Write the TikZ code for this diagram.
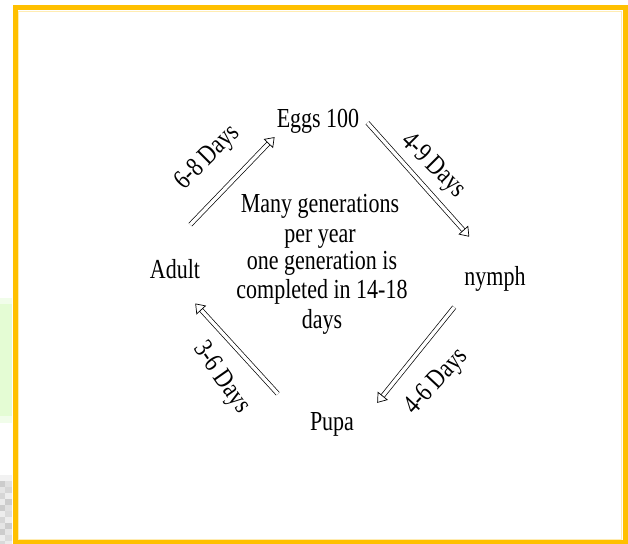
\documentclass[tikz,border=0pt]{standalone}
\usepackage{fontspec}
\setmainfont[FakeStretch=0.8]{Liberation Serif}
\usetikzlibrary{arrows.meta}

\definecolor{framegold}{RGB}{255,192,0}
\definecolor{palegreen}{RGB}{228,252,212}

\begin{document}
\begin{tikzpicture}[x=1pt,y=-1pt,
		stage/.style={font=\fontsize{27.5}{30}\selectfont, inner sep=0pt, anchor=base},
		days/.style={font=\fontsize{27.5}{30}\selectfont, inner sep=0pt},
		note/.style={font=\fontsize{27.5}{29.5}\selectfont, inner sep=0pt, align=center, anchor=base},
		cycle/.style={double, double distance=3.4pt, line width=0.7pt,
			-{Triangle[open, length=9pt, width=13pt]}}]
			\useasboundingbox (0,0) rectangle (628,543);
			
			% page edges
			\fill[palegreen] (0,298) rectangle (12,423);
			\fill[palegreen!50] (0,298) rectangle (12,304);
			\fill[palegreen!50] (0,416) rectangle (12,423);
			\foreach \row/\ga/\gb in {0/95/95, 1/80/88, 2/90/84, 3/84/93, 4/92/80, 5/80/88, 6/93/86, 7/84/93, 8/90/80, 9/80/90, 10/93/86, 11/85/92}
			{
				\fill[black!\the\numexpr100-\ga\relax] (0,475+6*\row) rectangle (5,481+6*\row);
				\fill[black!\the\numexpr100-\gb\relax] (5,475+6*\row) rectangle (12,481+6*\row);
			}
			\draw[framegold, line width=5pt] (15,7.5) rectangle (625,542.5);
			\draw[framegold!30, line width=0.8pt] (18.5,11) rectangle (621.5,539.5);
			
			\node[stage] (eggs) at (318,127) {Eggs 100};
			\node[stage] (nymph) at (495,285) {nymph};
			\node[stage] (pupa) at (332,430) {Pupa};
			\node[stage] (adult) at (175,278) {Adult};
			
			% base anchor sits on the last line
			\node[note] (many) at (320,242) {Many generations\\per year};
			\node[note] (one) at (322,328) {one generation is\\completed in 14-18\\days};
			
			\draw[cycle] ([shift={(-10,-34)}]adult.north east) -- ([shift={(-2,4)}]eggs.south west);
			\draw[cycle] ([shift={(8,2)}]eggs.east) -- ([shift={(5,-29)}]nymph.north west);
			\draw[cycle] ([shift={(-10,16)}]nymph.south west) -- ([shift={(23,-9)}]pupa.north east);
			\draw[cycle] ([shift={(-32,-18)}]pupa.north west) -- ([shift={(-5,25)}]adult.south east);
			
			\node[days, rotate=45] (d68) at (208,158) {6-8 Days};
			\node[days, rotate=-45] (d49) at (433,166) {4-9 Days};
			\node[days, rotate=47] (d46) at (437,382) {4-6 Days};
			\node[days, rotate=-55] (d36) at (221,378) {3-6 Days};
		\end{tikzpicture}
\end{document}
